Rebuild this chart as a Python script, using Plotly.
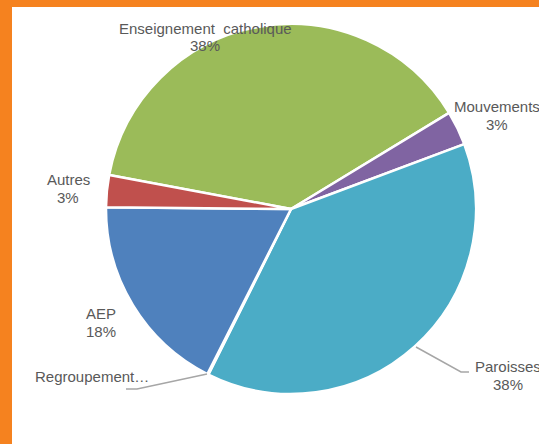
import plotly.graph_objects as go

labels = ["Enseignement catholique", "Mouvements", "Paroisses", "Regroupement…", "AEP", "Autres"]
values = [38.4, 3.0, 38.1, 0.1, 17.7, 2.8]
pct_text = ["38%", "3%", "38%", "", "18%", "3%"]
colors = ["#9BBB59", "#8064A2", "#4BACC6", "#F79646", "#4F81BD", "#C0504D"]

W, H = 539, 444

def px(x):
    return x / W

def py(y):
    return 1 - y / H

fig = go.Figure(go.Pie(
    labels=labels, values=values, sort=False, direction="clockwise",
    rotation=280.6, textinfo="none", hoverinfo="label+percent",
    marker=dict(colors=colors, line=dict(color="white", width=2.5)),
    domain=dict(x=[px(106), px(476)], y=[py(394), py(24)]),
    showlegend=False,
))

font = dict(family="Liberation Sans, Arial, sans-serif", size=15, color="#595959")
ann = [
    ("Enseignement\u00a0\u00a0catholique", 205, 28, "center"),
    (pct_text[0], 205, 45.5, "center"),
    ("Mouvements", 497, 107, "center"),
    (pct_text[1], 497, 124, "center"),
    ("Paroisses", 508, 366, "center"),
    (pct_text[2], 508, 384, "center"),
    ("Autres", 68, 179, "center"),
    (pct_text[5], 68, 197, "center"),
    ("AEP", 101, 313, "center"),
    (pct_text[4], 101, 331, "center"),
    (labels[3], 33, 376, "left"),
]
annotations = [dict(text=t, x=px(x), y=py(y), xref="paper", yref="paper",
                    xanchor=a, yanchor="middle", showarrow=False, font=font)
               for t, x, y, a in ann]

def path(points):
    return "M " + " L ".join(f"{px(x)},{py(y)}" for x, y in points)

shapes = [
    dict(type="rect", xref="paper", yref="paper", x0=0, x1=px(12), y0=0, y1=1,
         fillcolor="#F5821F", line=dict(width=0), layer="below"),
    dict(type="rect", xref="paper", yref="paper", x0=0, x1=1, y0=py(7), y1=1,
         fillcolor="#F5821F", line=dict(width=0), layer="below"),
    dict(type="path", xref="paper", yref="paper", path=path([(416, 347), (461, 372), (469, 372)]),
         line=dict(color="#A6A6A6", width=1.5)),
    dict(type="path", xref="paper", yref="paper", path=path([(207, 374), (137, 389), (126, 389)]),
         line=dict(color="#A6A6A6", width=1.5)),
]

fig.update_layout(
    width=W, height=H, margin=dict(l=0, r=0, t=0, b=0),
    paper_bgcolor="white", plot_bgcolor="white",
    annotations=annotations, shapes=shapes,
)

fig.write_html(
    "out.html",
    config={"displayModeBar": False},
    post_script="document.body.style.margin='0';document.body.style.overflow='hidden';",
)
